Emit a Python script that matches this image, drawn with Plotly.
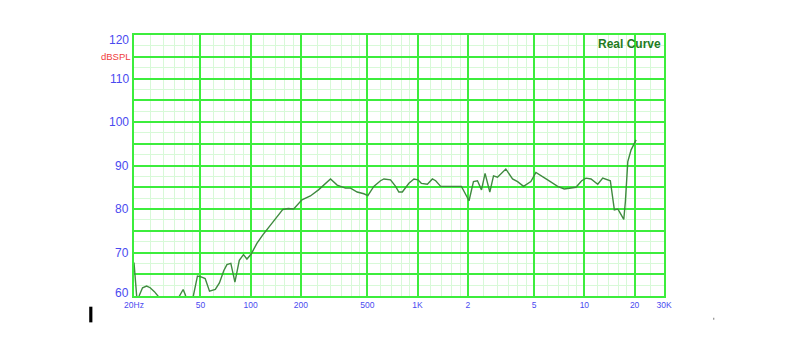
import plotly.graph_objects as go

# ---- data ----
freq_hz = [20, 20.4, 20.9, 21.6, 22.5, 23.8, 25.0, 26.5, 28.0, 30.0,
           35, 38, 39.4, 40.6, 42, 44.5, 46, 48, 50.5, 53.4,
           56.7, 61.4, 65, 69, 72.1, 76.1, 80.5, 85.5, 90.6, 95,
           100.5, 109, 118, 125, 140, 156, 168, 181, 203, 228,
           255, 281, 301, 330, 370, 397, 435, 477, 504, 547,
           600, 629, 689, 739, 773, 811, 888, 952, 1006, 1054,
           1146, 1228, 1285, 1377, 1773, 1833, 2036, 2164, 2288, 2418,
           2540, 2712, 2854, 3016, 3382, 3710, 3978, 4320, 4778, 5122,
           6022, 6914, 7576, 8904, 9636, 10226, 10958, 12024, 12884, 14308,
           15124, 15852, 16206, 17220, 17606, 18204, 19056, 20420]
spl_db = [67.7, 63.5, 58.5, 60.3, 61.9, 62.3, 61.9, 61.0, 60.0, 58.5,
          58.0, 60.3, 61.5, 60.3, 58.0, 58.5, 61.0, 64.6, 64.4, 64.0,
          61.1, 61.5, 63.0, 65.8, 67.2, 67.5, 63.2, 68.2, 69.5, 68.5,
          69.6, 72.1, 74.0, 75.2, 77.5, 79.9, 80.1, 80.0, 82.1, 83.0,
          84.4, 86.0, 86.9, 85.5, 84.8, 84.8, 83.9, 83.5, 83.1, 85.2,
          86.5, 86.9, 86.7, 85.2, 83.9, 83.9, 85.9, 86.9, 86.7, 85.9,
          85.7, 86.9, 86.5, 85.2, 85.3, 85.2, 81.9, 86.3, 86.5, 84.4,
          88.2, 83.9, 87.6, 87.3, 89.2, 86.9, 86.3, 85.2, 86.3, 88.4,
          86.7, 85.2, 84.6, 85.0, 86.5, 87.1, 86.9, 85.7, 87.1, 86.5,
          79.8, 80.0, 79.4, 77.6, 81.7, 90.9, 93.6, 95.9]

x_tickvals = [20, 50, 100, 200, 500, 1000, 2000, 5000, 10000, 20000, 30000]
x_ticktext = ["20Hz", "50", "100", "200", "500", "1K", "2", "5", "10", "20", "30K"]
x_minor = []
for dec in [1, 10, 100, 1000]:
    x_minor += [v * dec for v in [25, 30, 35, 40, 45, 60, 70, 80, 90, 120, 140, 160, 180]]
x_minor = [v for v in x_minor if v < 20000] + [25000]

y_gridvals = [60, 65, 70, 75, 80, 85, 90, 95, 100, 105, 110, 115, 120]
y_labelvals = [60, 70, 80, 90, 100, 110, 120]
y_labeltext = ["60", "70", "80", "90", "100", "110", "120"]
y_minor = [62.5, 67.5, 72.5, 77.5, 82.5, 87.5, 92.5, 97.5, 102.5, 107.5, 112.5, 117.5]

HEAVY = "#3ced3c"
LIGHT = "#d8f9d8"
BLUE = "#4a4af0"

fig = go.Figure()
fig.add_trace(go.Scatter(x=freq_hz, y=spl_db, mode="lines",
                         line=dict(color="#3f8a3f", width=1.4),
                         showlegend=False, hoverinfo="skip"))

fig.update_layout(
    width=800, height=359,
    margin=dict(l=134, r=136, t=35, b=63),
    paper_bgcolor="white", plot_bgcolor="white",
    font=dict(family="Liberation Sans, Arial, sans-serif"),
    xaxis=dict(type="log", range=[1.30103, 4.4771213],
               tickmode="array", tickvals=x_tickvals, ticktext=x_ticktext,
               tickfont=dict(size=8.5, color=BLUE),
               showgrid=True, gridcolor=HEAVY, gridwidth=2,
               showline=True, linecolor=HEAVY, linewidth=2, mirror=True,
               ticks="", zeroline=False,
               minor=dict(tickmode="array", tickvals=x_minor, showgrid=True,
                          gridcolor=LIGHT, gridwidth=1.2, ticks="")),
    yaxis=dict(range=[60, 120],
               tickmode="array", tickvals=y_gridvals, showticklabels=False,
               showgrid=True, gridcolor=HEAVY, gridwidth=2,
               showline=True, linecolor=HEAVY, linewidth=2, mirror=True,
               ticks="", zeroline=False,
               minor=dict(tickmode="array", tickvals=y_minor, showgrid=True,
                          gridcolor=LIGHT, gridwidth=1.2, ticks="")),
)

# y tick labels (end labels are nudged inside, as in the reference)
for v, t in zip(y_labelvals, y_labeltext):
    shift = -5 if v == 120 else (3 if v == 60 else 0)
    fig.add_annotation(x=-0.005, xref="paper", xanchor="right", y=v, yref="y",
                       yshift=shift, text=t, showarrow=False,
                       font=dict(size=12, color=BLUE))

fig.add_annotation(x=-0.002, xref="paper", xanchor="right", y=115, yref="y",
                   text="dBSPL", showarrow=False,
                   font=dict(size=9.5, color="#f03c3c"))
fig.add_annotation(x=0.998, xref="paper", xanchor="right", y=118.0, yref="y",
                   text="<b>Real Curve</b>", showarrow=False,
                   font=dict(size=12, color="#1f7a1f"))

# stray marks present in the reference image
fig.add_shape(type="rect", xref="paper", yref="paper",
              x0=-0.0845, x1=-0.0785, y0=-0.101, y1=-0.041,
              fillcolor="black", line=dict(width=0))
fig.add_shape(type="rect", xref="paper", yref="paper",
              x0=1.0925, x1=1.095, y0=-0.091, y1=-0.083,
              fillcolor="#999999", line=dict(width=0))

fig.write_html("out.html")
